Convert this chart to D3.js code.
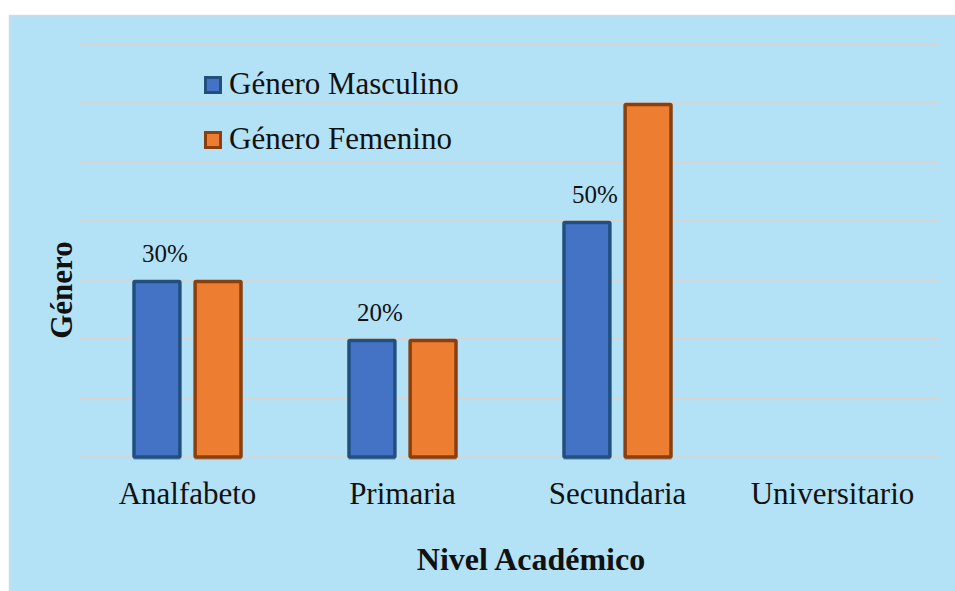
<!DOCTYPE html>
<html>
<head>
<meta charset="utf-8">
<script src="https://cdn.jsdelivr.net/npm/d3@7"></script>
<style>
  body { margin: 0; background: #fff; }
  text { font-family: "Liberation Serif", "Times New Roman", serif; }
</style>
</head>
<body>
<svg id="chart" width="955" height="591"></svg>
<script>
const categories = ["Analfabeto", "Primaria", "Secundaria", "Universitario"]
// bar heights as drawn (gridline units of 10%)
const masculino = [0.30, 0.20, 0.40, 0]
const femenino = [0.30, 0.20, 0.60, 0]
// labels as printed on the chart (only the first series is labelled)
const masculinoLabels = ["30%", "20%", "50%", ""]
const seriesNames = ["Género Masculino", "Género Femenino"]
const yTicks = [0, 0.1, 0.2, 0.3, 0.4, 0.5, 0.6, 0.7]

const fills = ["#4472C4", "#ED7D31"]
const strokes = ["#22507E", "#8A3F0E"]

const svg = d3.select("#chart")
const W = 955, H = 591
const plotLeft = 80, plotRight = 940, plotTop = 44, plotBottom = 457

// panel
svg.append("rect")
  .attr("x", 9.5).attr("y", 15.5)
  .attr("width", W).attr("height", H)
  .attr("fill", "#B3E2F7")
  .attr("stroke", "#D9D9D9")
  .attr("stroke-width", 1.5)

const x0 = d3.scaleBand().domain(categories).range([plotLeft, plotRight])
const x1 = d3.scaleBand().domain([0, 1]).range([0, 110]).paddingInner(0.2)
const y = d3.scaleLinear().domain([0, 0.7]).range([plotBottom, plotTop])

// gridlines
svg.append("g")
  .selectAll("line")
  .data(yTicks)
  .enter().append("line")
  .attr("x1", plotLeft).attr("x2", plotRight)
  .attr("y1", d => y(d)).attr("y2", d => y(d))
  .attr("stroke", "#D5D5D5")
  .attr("stroke-width", 2)

const data = categories.map((c, i) => ({cat: c, vals: [masculino[i], femenino[i]], label: masculinoLabels[i]}))

const groups = svg.append("g")
  .selectAll("g")
  .data(data)
  .enter().append("g")
  .attr("transform", d => `translate(${x0(d.cat) + x0.bandwidth() / 2 - 55},0)`)

// faint shadow below the baseline
groups.selectAll("rect.shadow")
  .data(d => d.vals.map((v, s) => ({v, s})).filter(e => e.v > 0))
  .enter().append("rect")
  .classed("shadow", true)
  .attr("x", e => x1(e.s) + 1)
  .attr("y", plotBottom)
  .attr("width", x1.bandwidth() - 2)
  .attr("height", 3)
  .attr("fill", e => e.s === 0 ? "#7FA3D6" : "#C99A7E")
  .attr("opacity", 0.8)

groups.selectAll("rect.bar")
  .data(d => d.vals.map((v, s) => ({v, s})).filter(e => e.v > 0))
  .enter().append("rect")
  .classed("bar", true)
  .attr("x", e => x1(e.s) + 1.5)
  .attr("y", e => y(e.v) + 1.5)
  .attr("width", x1.bandwidth() - 3)
  .attr("height", e => plotBottom - y(e.v) - 1.5)
  .attr("fill", e => fills[e.s])
  .attr("stroke", e => strokes[e.s])
  .attr("stroke-width", 3.5)
  .attr("rx", 1)

// value labels on first series only
groups.filter(d => d.label)
  .append("text")
  .classed("val", true)
  .attr("x", x1(0) + x1.bandwidth() / 2 + 8)
  .attr("y", d => y(d.vals[0]) - 18)
  .attr("text-anchor", "middle")
  .attr("font-size", "25px")
  .attr("fill", "#111")
  .text(d => d.label)

// x axis labels
const xAxis = d3.axisBottom(x0).tickSize(0).tickPadding(0)
const ax = svg.append("g")
  .attr("transform", `translate(0,${plotBottom})`)
  .call(xAxis)
ax.select(".domain").remove()
ax.selectAll("text")
  .attr("y", 47)
  .attr("dy", 0)
  .attr("font-size", "31px")
  .attr("fill", "#111")

// axis titles
svg.append("text")
  .attr("x", 531).attr("y", 570)
  .attr("text-anchor", "middle")
  .attr("font-size", "32px")
  .attr("font-weight", "bold")
  .attr("fill", "#111")
  .text("Nivel Académico")

svg.append("text")
  .attr("transform", "translate(72,290) rotate(-90)")
  .attr("text-anchor", "middle")
  .attr("font-size", "31px")
  .attr("font-weight", "bold")
  .attr("fill", "#111")
  .text("Género")

// legend
const legend = svg.append("g")
  .selectAll("g")
  .data(seriesNames)
  .enter().append("g")
  .attr("transform", (d, i) => `translate(204,${76 + i * 55})`)

legend.append("rect")
  .attr("x", 1.5).attr("y", 1.5)
  .attr("width", 15).attr("height", 15)
  .attr("fill", (d, i) => fills[i])
  .attr("stroke", (d, i) => strokes[i])
  .attr("stroke-width", 3)

legend.append("text")
  .attr("x", 25)
  .attr("y", 18)
  .attr("font-size", "31px")
  .attr("fill", "#111")
  .text(d => d)
</script>
</body>
</html>
